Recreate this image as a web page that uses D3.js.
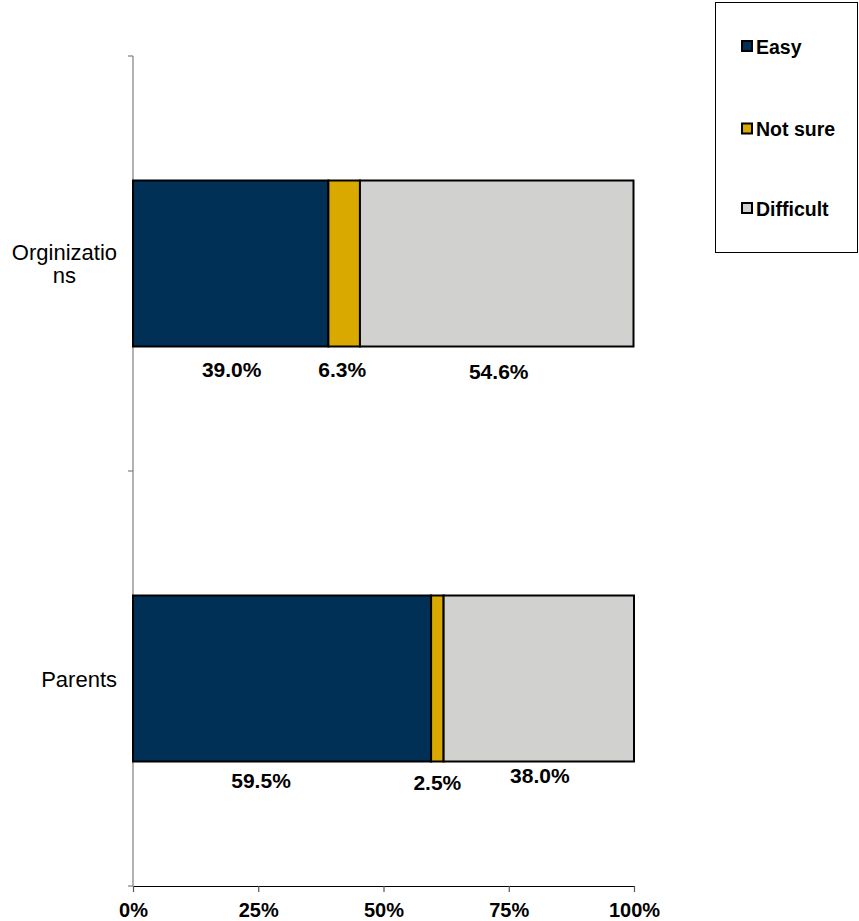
<!DOCTYPE html>
<html>
<head>
<meta charset="utf-8">
<script src="https://cdn.jsdelivr.net/npm/d3@7"></script>
<style>
  html, body { margin: 0; padding: 0; background: #fff; }
  svg { display: block; font-family: Arial, "Liberation Sans", sans-serif; }
</style>
</head>
<body>
<svg id="chart" width="859" height="921"></svg>
<script>
// Survey groups and their answer shares (percent)
const categories = ["Orginizations", "Parents"];
const categoryLines = [["Orginizatio", "ns"], ["Parents"]];
const seriesNames = ["Easy", "Not sure", "Difficult"];
const easy = [39.0, 59.5];
const notSure = [6.3, 2.5];
const difficult = [54.6, 38.0];
const tickValues = [0, 25, 50, 75, 100];

const colors = { "Easy": "#013056", "Not sure": "#d9a900", "Difficult": "#d1d1d0" };

// Value-label placement tweaks (px): horizontal shift and drop below the bar
const labelNudge = [[1, -2, 2], [-21, 0, 1]];
const labelDrop = [[23, 23, 25], [19, 21, 14]];

const svg = d3.select("#chart");
const plot = { left: 133, right: 634, top: 56, bottom: 886 };

const x = d3.scaleLinear().domain([0, 100]).range([plot.left, plot.right]);
const y = d3.scaleBand().domain(categories).range([plot.top, plot.bottom]).paddingInner(0.6).paddingOuter(0.3);
const yEdges = d3.scaleBand().domain(categories).range([plot.top, plot.bottom]);

const rows = categories.map((c, i) => ({ category: c, "Easy": easy[i], "Not sure": notSure[i], "Difficult": difficult[i] }));
const stacked = d3.stack().keys(seriesNames)(rows);

// Y axis (category axis) with outward ticks at band boundaries
svg.append("line")
  .attr("x1", plot.left).attr("x2", plot.left)
  .attr("y1", plot.top).attr("y2", plot.bottom)
  .attr("stroke", "#7f7f7f").attr("stroke-width", 1.2);
const boundaries = categories.map(c => yEdges(c)).concat([plot.bottom]);
svg.selectAll(".ytick").data(boundaries).join("line")
  .attr("x1", plot.left - 5).attr("x2", plot.left)
  .attr("y1", d => d).attr("y2", d => d)
  .attr("stroke", "#7f7f7f").attr("stroke-width", 1.2);

// X axis
const xAxis = d3.axisBottom(x).tickValues(tickValues).tickFormat(d => d + "%").tickSize(6).tickSizeOuter(0);
const gx = svg.append("g").attr("transform", `translate(0,${plot.bottom})`).call(xAxis);
gx.select(".domain").attr("stroke", "#000").attr("stroke-width", 1.2);
gx.selectAll(".tick line").attr("stroke", "#555").attr("stroke-width", 1.2);
gx.selectAll(".tick text")
  .attr("dy", null).attr("y", 31)
  .attr("font-size", 20).attr("font-weight", "bold").attr("fill", "#000")
  .attr("font-family", "Arial, 'Liberation Sans', sans-serif");

// Bars
const layers = svg.append("g").selectAll("g").data(stacked).join("g")
  .attr("fill", d => colors[d.key]);
layers.selectAll("rect").data(d => d).join("rect")
  .attr("x", d => x(d[0]))
  .attr("y", d => y(d.data.category))
  .attr("width", d => x(d[1]) - x(d[0]))
  .attr("height", y.bandwidth())
  .attr("stroke", "#000").attr("stroke-width", 2);

// Value labels below each segment
stacked.forEach((layer, si) => {
  layer.forEach((d, ci) => {
    svg.append("text")
      .attr("x", (x(d[0]) + x(d[1])) / 2 + labelNudge[ci][si])
      .attr("y", y(d.data.category) + y.bandwidth() + labelDrop[ci][si])
      .attr("dy", "0.35em")
      .attr("text-anchor", "middle")
      .attr("font-size", 21).attr("font-weight", "bold").attr("fill", "#000")
      .text(d.data[layer.key].toFixed(1) + "%");
  });
});

// Category labels, block right-aligned next to the axis, lines centred
categories.forEach((c, i) => {
  const lines = categoryLines[i];
  const g = svg.append("g");
  const lineH = 23;
  const cy = yEdges(c) + yEdges.bandwidth() / 2;
  const t = g.selectAll("text").data(lines).join("text")
    .attr("y", (d, k) => cy + (k - (lines.length - 1) / 2) * lineH)
    .attr("dy", "0.38em")
    .attr("text-anchor", "middle")
    .attr("font-size", 22).attr("fill", "#000")
    .text(d => d);
  let w = 0;
  t.each(function () { w = Math.max(w, this.getComputedTextLength()); });
  t.attr("x", plot.left - 16 - w / 2);
});

// Legend
const legend = svg.append("g");
legend.append("rect")
  .attr("x", 715.5).attr("y", 2.5).attr("width", 142).attr("height", 250)
  .attr("fill", "#fff").attr("stroke", "#000").attr("stroke-width", 1);
const legendY = [46.5, 129, 208.5];
seriesNames.forEach((s, i) => {
  legend.append("rect")
    .attr("x", 742).attr("y", legendY[i] - 5.5).attr("width", 10).attr("height", 10)
    .attr("fill", colors[s]).attr("stroke", "#000").attr("stroke-width", 2);
  legend.append("text")
    .attr("x", 756).attr("y", legendY[i]).attr("dy", "0.36em")
    .attr("font-size", 19.5).attr("font-weight", "bold").attr("fill", "#000")
    .text(s);
});
</script>
</body>
</html>
